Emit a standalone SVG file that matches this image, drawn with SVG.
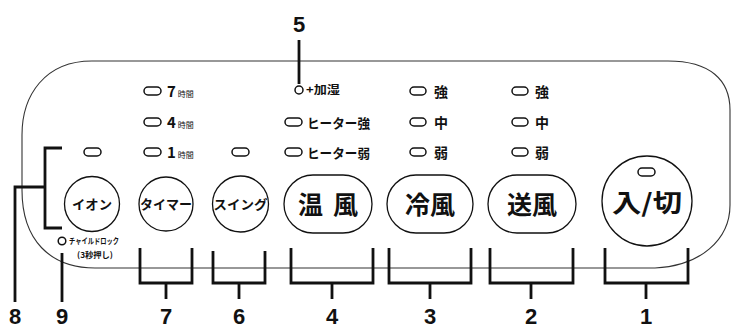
<svg xmlns="http://www.w3.org/2000/svg" width="732" height="330" viewBox="0 0 732 330">
<style>
.panel{fill:none;stroke:#333;stroke-width:1.1}
.btn{fill:#fff;stroke:#111;stroke-width:1.3}
.led{fill:#fff;stroke:#111;stroke-width:1.5}
.br{fill:none;stroke:#111;stroke-width:2.8;stroke-linejoin:miter;stroke-linecap:butt}
.jp{font-family:"Noto Sans CJK JP","Noto Sans",sans-serif;fill:#111;font-weight:bold}
.num{font-family:"Liberation Sans","DejaVu Sans",sans-serif;font-weight:bold;font-size:22px;fill:#111;text-anchor:middle}
.big{font-size:25px;text-anchor:middle}
.mid{font-size:13px;text-anchor:middle}
.lab{font-size:14px}
.sm{font-size:8px;font-weight:normal}
</style>
<rect width="732" height="330" fill="#fff"/>
<path class="panel" d="M 92,61 H 668 C 710,61 730,80 730,110 V 205 C 730,240 700,266 655,268 H 95 C 50,268 22,240 22,190 V 135 C 22,95 45,61 92,61 Z"/>

<g id="connectors">
  <path class="br" d="M 62,148 H 45 V 228 H 62 M 45,187 H 15 V 302"/>
  <path class="br" d="M 62,253 V 302"/>
  <path class="br" d="M 299,40 V 84"/>
  <path class="br" d="M 140,248 V 283 H 192 V 248 M 166,283 V 299"/>
  <path class="br" d="M 213,251 V 283 H 265 V 251 M 239,283 V 299"/>
  <path class="br" d="M 291,248 V 283 H 373 V 248 M 332,283 V 299"/>
  <path class="br" d="M 389,248 V 283 H 471 V 248 M 430,283 V 299"/>
  <path class="br" d="M 490,248 V 283 H 573 V 248 M 531,283 V 299"/>
  <path class="br" d="M 605,248 V 283 H 688 V 248 M 646,283 V 299"/>
</g>

<g id="n1">
  <circle class="btn" cx="647" cy="201" r="45"/>
  <rect class="led" x="638" y="168" width="17" height="8" rx="4"/>
  <text class="jp big" x="647" y="212" textLength="70" lengthAdjust="spacingAndGlyphs">入/切</text>
</g>
<g id="n2">
  <rect class="btn" x="488" y="175" width="88" height="58" rx="29"/>
  <text class="jp big" x="532" y="214">送風</text>
  <rect class="led" x="512" y="87" width="16" height="8" rx="4"/><text class="jp lab" x="535" y="97">強</text>
  <rect class="led" x="512" y="118" width="16" height="8" rx="4"/><text class="jp lab" x="535" y="128">中</text>
  <rect class="led" x="512" y="148" width="16" height="8" rx="4"/><text class="jp lab" x="535" y="158">弱</text>
</g>
<g id="n3">
  <rect class="btn" x="387" y="175" width="86" height="58" rx="29"/>
  <text class="jp big" x="430" y="214">冷風</text>
  <rect class="led" x="410" y="87" width="16" height="8" rx="4"/><text class="jp lab" x="434" y="97">強</text>
  <rect class="led" x="410" y="118" width="16" height="8" rx="4"/><text class="jp lab" x="434" y="128">中</text>
  <rect class="led" x="410" y="148" width="16" height="8" rx="4"/><text class="jp lab" x="434" y="158">弱</text>
</g>
<g id="n4">
  <rect class="btn" x="284" y="175" width="88" height="58" rx="29"/>
  <text class="jp big" x="328" y="214" textLength="60" lengthAdjust="spacing">温風</text>
  <rect class="led" x="285" y="118" width="17" height="8" rx="4"/><text class="jp" x="307" y="128" font-size="13" textLength="63" lengthAdjust="spacingAndGlyphs">ヒーター強</text>
  <rect class="led" x="285" y="148" width="17" height="8" rx="4"/><text class="jp" x="307" y="158" font-size="13" textLength="63" lengthAdjust="spacingAndGlyphs">ヒーター弱</text>
</g>
<g id="n5">
  <circle class="led" cx="299" cy="90" r="4"/>
  <text class="jp" x="306" y="94" font-size="11" textLength="34" lengthAdjust="spacingAndGlyphs">+加湿</text>
</g>
<g id="n6">
  <circle class="btn" cx="240.5" cy="204" r="28"/>
  <rect class="led" x="232" y="148" width="17" height="8" rx="4"/>
  <text class="jp mid" x="240.5" y="209" textLength="54" lengthAdjust="spacingAndGlyphs">スイング</text>
</g>
<g id="n7">
  <circle class="btn" cx="166" cy="204" r="27"/>
  <text class="jp mid" x="166" y="209" textLength="52" lengthAdjust="spacingAndGlyphs">タイマー</text>
  <rect class="led" x="144" y="87" width="17" height="8" rx="4"/><text class="jp" x="167" y="97" font-size="15">7<tspan class="sm" dx="2">時間</tspan></text>
  <rect class="led" x="144" y="118" width="17" height="8" rx="4"/><text class="jp" x="167" y="128" font-size="15">4<tspan class="sm" dx="2">時間</tspan></text>
  <rect class="led" x="144" y="148" width="17" height="8" rx="4"/><text class="jp" x="167" y="158" font-size="15">1<tspan class="sm" dx="2">時間</tspan></text>
</g>
<g id="n8">
  <circle class="btn" cx="92" cy="204" r="27.5"/>
  <rect class="led" x="84" y="148" width="17" height="8" rx="4"/>
  <text class="jp mid" x="92" y="209" font-size="14" textLength="40" lengthAdjust="spacingAndGlyphs">イオン</text>
</g>
<g id="n9">
  <circle class="led" cx="62" cy="241" r="3.8" stroke-width="1.2"/>
  <text class="jp" x="69" y="244" font-size="8" font-weight="normal" textLength="50" lengthAdjust="spacingAndGlyphs">チャイルドロック</text>
  <text class="jp" x="77" y="258" font-size="8" font-weight="normal" textLength="36" lengthAdjust="spacingAndGlyphs">(3秒押し)</text>
</g>

<g id="labels">
  <text class="num" x="299" y="32">5</text>
  <text class="num" x="15" y="324">8</text>
  <text class="num" x="62" y="324">9</text>
  <text class="num" x="166" y="324">7</text>
  <text class="num" x="239" y="324">6</text>
  <text class="num" x="332" y="324">4</text>
  <text class="num" x="430" y="324">3</text>
  <text class="num" x="531" y="324">2</text>
  <text class="num" x="646" y="324">1</text>
</g>
</svg>
